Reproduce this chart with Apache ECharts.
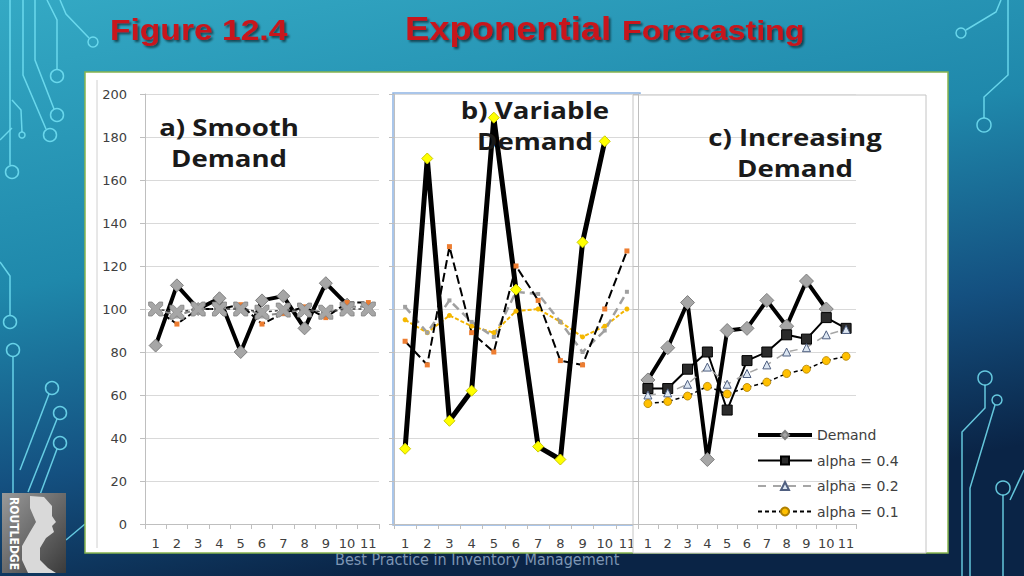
<!DOCTYPE html>
<html><head><meta charset="utf-8">
<script src="https://cdn.jsdelivr.net/npm/echarts@6/dist/echarts.min.js"></script>
<style>html,body{margin:0;padding:0;background:#0b2545;}#c{width:1024px;height:576px;}</style>
</head><body><div id="c"></div>
<script>
// ---------------- data ----------------
const categories = ['1','2','3','4','5','6','7','8','9','10','11'];
const yTickLabels = [0,20,40,60,80,100,120,140,160,180,200];
const seriesNames = ['Demand','alpha = 0.4','alpha = 0.2','alpha = 0.1'];
const panelTitles = ['a) Smooth\nDemand','b) Variable\nDemand','c) Increasing\nDemand'];
const slideTitle = 'Figure 12.4';
const slideHeading1 = 'Exponential';
const slideHeading2 = 'Forecasting';
const footerText = 'Best Practice in Inventory Management';
const logoText = 'ROUTLEDGE';

// a) Smooth demand
const smoothDemand = [83,111,100,105,80,104,106,91,112,102];
const smoothA04    = [100,93,100,100,102,93,98,101,96,103,103];
const smoothA02    = [100,97,100,100,101,97,98,100,98,101,101];
const smoothA01    = [100,98.5,100,100,100,98.5,99.5,99.5,98.5,100,100];
// b) Variable demand
const variableDemand = [35,170,48,62,189,109,36,30,131,178];
const variableA04    = [85,74,129,89,80,120,104,76,74,100,127];
const variableA02    = [101,89,104,94,87,108,107,94,80,90,108];
const variableA01    = [95,89,97,92,89,99,100,94,87,92,100];
// c) Increasing demand
const increasingDemand = [67,82,103,30,90,91,104,92,113,100];
const increasingA04    = [63,63,72,80,53,76,80,88,86,96,91];
const increasingA02    = [60,61,65,73,65,70,74,80,82,88,90.5];
const increasingA01    = [56,57,59.5,64,60.5,63.5,66,70,72,76,78];

// ---------------- chart ----------------
const chart = echarts.init(document.getElementById('c'), null, {renderer:'svg', width:1024, height:576});
const yMin = yTickLabels[0], yMax = yTickLabels[yTickLabels.length-1], yInt = yTickLabels[1]-yTickLabels[0];
const grids = [
  {left:145, top:94, width:234, height:430},
  {left:394, top:94, width:244, height:430},
  {left:638, top:94, width:218, height:430}
];
const axisZ = [2,2,5];
const labelFont = {color:'#404040', fontFamily:'"DejaVu Sans"', fontSize:13};
const xAxes = grids.map((g,i)=>({
  type:'category', gridIndex:i, data:categories, boundaryGap:true, z:axisZ[i],
  axisLine:{lineStyle:{color:'#bfbfbf', width:1}},
  axisTick:{show:true, length:5, lineStyle:{color:'#bfbfbf'}},
  axisLabel:Object.assign({interval:0, margin:13}, labelFont),
  splitLine:{show:false}
}));
const yAxes = grids.map((g,i)=>({
  type:'value', gridIndex:i, min:yMin, max:yMax, interval:yInt, z:axisZ[i],
  axisLine:{show:true, lineStyle:{color:'#bfbfbf', width:1}},
  axisTick:{show:true, length:5, lineStyle:{color:'#bfbfbf'}},
  axisLabel:Object.assign({show:i===0, margin:18}, labelFont),
  splitLine:{show:true, lineStyle:{color:'#d9d9d9', width:1}}
}));

const xPath = 'path://M0,0 L2.5,0 L5,2.5 L7.5,0 L10,0 L10,2.5 L7.5,5 L10,7.5 L10,10 L7.5,10 L5,7.5 L2.5,10 L0,10 L0,7.5 L2.5,5 L0,2.5 Z';
function line(name, data, gi, z, lineStyle, symbol, symbolSize, itemStyle){
  return {type:'line', name, data, xAxisIndex:gi, yAxisIndex:gi, z,
    symbol, symbolSize, showSymbol:true, showAllSymbol:true, lineStyle, itemStyle,
    emphasis:{disabled:true}, animation:false};
}
const series = [
  // panel a
  line('Demand (a)', smoothDemand, 0, 3, {color:'#000', width:4}, 'diamond', 13, {color:'#a6a6a6', borderColor:'#7f7f7f', borderWidth:1}),
  line('alpha = 0.2 (a)', smoothA02, 0, 3, {color:'#8c8c8c', width:2, type:[6,4]}, 'triangle', 6, {color:'#a6a6a6'}),
  line('alpha = 0.4 (a)', smoothA04, 0, 3, {color:'#000', width:2, type:[7,3]}, 'rect', 5, {color:'#ed7d31'}),
  line('alpha = 0.1 (a)', smoothA01, 0, 3, {color:'#404040', width:1.5, type:[3,3]}, xPath, 14, {color:'#a6a6a6', borderColor:'#808080', borderWidth:0.8}),
  // panel b
  line('alpha = 0.1 (b)', variableA01, 1, 3, {color:'#f2b400', width:2, type:[4,2]}, 'circle', 5, {color:'#f5b800'}),
  line('alpha = 0.2 (b)', variableA02, 1, 3, {color:'#a0a0a0', width:2.5, type:[8,5]}, 'rect', 4, {color:'#a0a0a0'}),
  line('alpha = 0.4 (b)', variableA04, 1, 3, {color:'#000', width:2, type:[9,4]}, 'rect', 5, {color:'#ed7d31'}),
  line('Demand (b)', variableDemand, 1, 3, {color:'#000', width:5}, 'diamond', 11, {color:'#ffff00', borderColor:'#c9c900', borderWidth:1}),
  // panel c
  line(seriesNames[0], increasingDemand, 2, 6, {color:'#000', width:4}, 'diamond', 14, {color:'#a6a6a6', borderColor:'#7f7f7f', borderWidth:1}),
  line(seriesNames[1], increasingA04, 2, 6, {color:'#000', width:2}, 'rect', 10, {color:'#2b2b2b', borderColor:'#000', borderWidth:1}),
  line(seriesNames[2], increasingA02, 2, 6, {color:'#a6a6a6', width:1.5, type:[8,7]}, 'triangle', 8, {color:'#dce6f2', borderColor:'#4f5f80', borderWidth:1}),
  line(seriesNames[3], increasingA01, 2, 6, {color:'#000', width:1.5, type:[4,3]}, 'circle', 8, {color:'#ffc000', borderColor:'#b08000', borderWidth:0.8})
];

// decorative circuit lines
const deco = '#74e2f4';
const polylines = [
  [[10,0],[10,165]], [[23,0],[23,75],[46,129]], [[47,0],[57,20],[57,69]], [[35,0],[35,60],[54,109]],
  [[60,0],[66,14],[89,38]], [[12,100],[21,110],[22,132]], [[0,140],[12,128]],
  [[0,262],[10,276],[10,315]], [[13,357],[13,500]], [[49,394],[20,470]], [[57,419],[28,492]], [[57,449],[38,500]],
  [[66,540],[85,524]],
  [[1001,0],[996,12],[966,30]], [[1008,0],[1008,75],[984,97],[984,118]],
  [[985,385],[985,408],[962,432],[962,576]], [[995,405],[970,488],[970,576]], [[1003,495],[1003,576]],
  [[1024,470],[1010,500]]
];
const circles = [[12,172,6.5],[50,135,6.5],[57,76,6.5],[57,115,6.5],[93,42,5],[22,135,3],
  [10,322,6.5],[13,350,6.5],[52,388,6.5],[60,413,6.5],[60,443,6.5],
  [961,33,5],[984,125,7],[985,378,7],[997,400,5],[1003,488,7]];

const graphic = [];
polylines.forEach(p=>graphic.push({type:'polyline', z:0, silent:true, shape:{points:p}, style:{stroke:deco, lineWidth:1.5, fill:null, opacity:0.85}}));
circles.forEach(c=>graphic.push({type:'circle', z:0, silent:true, shape:{cx:c[0],cy:c[1],r:c[2]}, style:{stroke:deco, lineWidth:1.5, fill:'none', opacity:0.85}}));
graphic.push(
  {type:'text', z:0, silent:true, x:335, y:551, style:{text:footerText, fill:'#7d95b3', font:'16px "Liberation Sans Narrow","DejaVu Sans Condensed","Liberation Sans"', textAlign:'left', textVerticalAlign:'top'}},
  {type:'rect', z:1, silent:true, shape:{x:85,y:72,width:863,height:481}, style:{fill:'#ffffff', stroke:'#86b44f', lineWidth:1.5}},
  {type:'line', z:1, silent:true, shape:{x1:97,y1:80,x2:97,y2:548}, style:{stroke:'#d0d0d0', lineWidth:1}},
  {type:'rect', z:2, silent:true, shape:{x:393,y:93,width:247,height:432}, style:{fill:null, stroke:'#8eb4e3', lineWidth:1.5}},
  {type:'rect', z:4, silent:true, shape:{x:633,y:95,width:293,height:458}, style:{fill:'#ffffff', stroke:'#c4c4c4', lineWidth:1}},
  // logo
  {type:'rect', z:2, silent:true, shape:{x:2,y:493,width:64,height:80}, style:{fill:new echarts.graphic.LinearGradient(0,0,1,1,[{offset:0,color:'#9a9a9a'},{offset:1,color:'#3a3a3a'}])}},
  {type:'polygon', z:2, silent:true, shape:{points:[[30,496],[44,497],[52,506],[52,516],[56,522],[52,526],[54,532],[46,538],[40,548],[40,560],[48,568],[56,573],[28,573],[22,560],[22,546],[30,532],[36,522],[30,508]]}, style:{fill:'#d9d9d9'}},
  {type:'text', z:3, silent:true, x:20, y:497, rotation:-Math.PI/2, style:{text:logoText, fill:'#ffffff', font:'bold 12px "DejaVu Sans Condensed","DejaVu Sans"', textAlign:'left', textVerticalAlign:'top'}},
  // slide titles
  {type:'text', z:10, silent:true, x:110, y:30, scaleX:1.12, style:{text:slideTitle, fill:'#c8141c', font:'bold 30px "Liberation Sans"', textAlign:'left', textVerticalAlign:'middle', textShadowColor:'rgba(0,0,0,0.55)', textShadowBlur:2, textShadowOffsetX:2, textShadowOffsetY:2}},
  {type:'text', z:10, silent:true, x:405, y:28, scaleX:1.07, style:{text:slideHeading1, fill:'#c8141c', font:'bold 34px "Liberation Sans"', textAlign:'left', textVerticalAlign:'middle', textShadowColor:'rgba(0,0,0,0.55)', textShadowBlur:2, textShadowOffsetX:2, textShadowOffsetY:2}},
  {type:'text', z:10, silent:true, x:622, y:30, scaleX:1.15, style:{text:slideHeading2, fill:'#c8141c', font:'bold 28px "Liberation Sans"', textAlign:'left', textVerticalAlign:'middle', textShadowColor:'rgba(0,0,0,0.55)', textShadowBlur:2, textShadowOffsetX:2, textShadowOffsetY:2}}
);
const titlePos = [[229,111],[535,94],[795,121]];
panelTitles.forEach((t,i)=>graphic.push({type:'text', z:8, silent:true, x:titlePos[i][0], y:titlePos[i][1], scaleX:1.2,
  style:{text:t, fill:'#1a1a1a', font:'bold 23px "Open Sans"', lineHeight:31, textAlign:'center', textVerticalAlign:'top'}}));

chart.setOption({
  animation:false,
  backgroundColor:new echarts.graphic.LinearGradient(0,0,0.35,1,[
    {offset:0,color:'#34a9c4'},{offset:0.45,color:'#1f88ab'},{offset:0.75,color:'#145080'},{offset:1,color:'#0a2446'}]),
  grid:grids,
  xAxis:xAxes,
  yAxis:yAxes,
  legend:{
    data:[
      {name:seriesNames[0], lineStyle:{width:4}},
      {name:seriesNames[1]},
      {name:seriesNames[2]},
      {name:seriesNames[3]}
    ],
    orient:'vertical', left:751, top:423, itemWidth:54, itemHeight:10, itemGap:11.5, z:7,
    selectedMode:false, textStyle:{fontFamily:'"DejaVu Sans"', fontSize:14, color:'#404040', lineHeight:14}},
  graphic:graphic,
  series:series
});
</script></body></html>
